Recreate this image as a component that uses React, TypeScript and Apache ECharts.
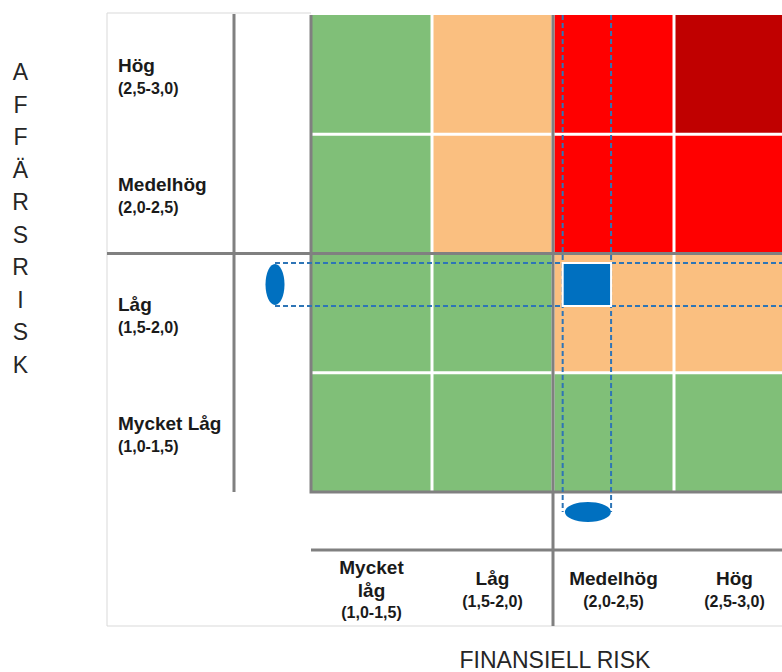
import { useEffect, useRef } from "react";
import * as echarts from "echarts";

// Scores run from 1,0 to 3,0 on both axes, split into four bands.
const scoreBounds = [1.0, 1.5, 2.0, 2.5, 3.0];
const bandRanges = ["(1,0-1,5)", "(1,5-2,0)", "(2,0-2,5)", "(2,5-3,0)"];
const financialLabels = ["Mycket\nlåg", "Låg", "Medelhög", "Hög"];
const businessLabels = ["Mycket Låg", "Låg", "Medelhög", "Hög"];

// Risk level per cell: rows = business risk (low → high), columns = financial risk (low → high)
const riskLevels = [
  [0, 0, 0, 0],
  [0, 0, 1, 1],
  [0, 1, 2, 2],
  [0, 1, 2, 3],
];
const levelColors = ["#80BF78", "#FABF80", "#FF0000", "#C00000"];

// Assessed position of the company (score interval on each axis)
const financialScore = [2.04, 2.24];
const businessScore = [1.78, 1.96];
const threshold = 2.0;

const verticalTitle = "AFFÄRSRISK";
const horizontalTitle = "FINANSIELL RISK";

// Layout
const W = 782;
const H = 672;
const GRID_LEFT = 311;
const GRID_TOP = 15;
const GRID_W = 484;
const GRID_H = 477;
const FRAME_LEFT = 107;
const FRAME_TOP = 13;
const FRAME_BOTTOM = 626;
const LABEL_DIVIDER_X = 234;
const AXIS_ROW_Y = 550;
const FONT = "'Liberation Sans', Arial, Helvetica, sans-serif";
const GRAY = "#808080";
const BLUE = "#0070C0";
const DASH_BLUE = "#2E75B6";

const minScore = scoreBounds[0];
const maxScore = scoreBounds[scoreBounds.length - 1];
const px = (v: number) => GRID_LEFT + ((v - minScore) / (maxScore - minScore)) * GRID_W;
const py = (v: number) => GRID_TOP + ((maxScore - v) / (maxScore - minScore)) * GRID_H;

function buildGraphics() {
  const els: any[] = [];
  const line = (x1: number, y1: number, x2: number, y2: number) => ({
    type: "line",
    z: 5,
    shape: { x1, y1, x2, y2 },
    style: { stroke: GRAY, lineWidth: 3 },
  });
  const text = (
    x: number,
    y: number,
    t: string,
    size: number,
    weight: string,
    align: string,
    extra: any = {}
  ) => ({
    type: "text",
    z: 6,
    x,
    y,
    style: {
      text: t,
      fill: "#1A1A1A",
      fontFamily: FONT,
      fontSize: size,
      fontWeight: weight,
      align,
      textAlign: align,
      verticalAlign: "middle",
      textVerticalAlign: "middle",
      ...extra,
    },
  });

  // outer frame of the table
  els.push({
    type: "polyline",
    z: 1,
    shape: {
      points: [
        [GRID_LEFT, FRAME_TOP],
        [FRAME_LEFT, FRAME_TOP],
        [FRAME_LEFT, FRAME_BOTTOM],
        [W + 10, FRAME_BOTTOM],
      ],
    },
    style: { stroke: "#D9D9D9", lineWidth: 1, fill: null },
  });

  // table structure
  els.push(line(LABEL_DIVIDER_X, 14, LABEL_DIVIDER_X, GRID_TOP + GRID_H));
  els.push({
    type: "polyline",
    z: 5,
    shape: {
      points: [
        [GRID_LEFT, GRID_TOP],
        [GRID_LEFT, GRID_TOP + GRID_H],
        [W + 10, GRID_TOP + GRID_H],
      ],
    },
    style: { stroke: GRAY, lineWidth: 3, fill: null },
  });
  els.push(line(GRID_LEFT, AXIS_ROW_Y, W + 10, AXIS_ROW_Y));
  // threshold lines at score 2,0
  els.push(line(FRAME_LEFT, py(threshold), W + 10, py(threshold)));
  els.push(line(px(threshold), GRID_TOP, px(threshold), FRAME_BOTTOM));

  // business risk labels
  businessLabels.forEach((lab, i) => {
    const cy = py((scoreBounds[i] + scoreBounds[i + 1]) / 2);
    els.push(text(118, cy - 9, lab, 19, "bold", "left"));
    els.push(text(118, cy + 14, bandRanges[i], 16, "bold", "left"));
  });

  // financial risk labels
  financialLabels.forEach((lab, i) => {
    const cx = px((scoreBounds[i] + scoreBounds[i + 1]) / 2);
    const lines = [...lab.split("\n"), bandRanges[i]];
    const n = lines.length;
    lines.forEach((t, k) => {
      const y = 590 + (k - (n - 1) / 2) * 22.5;
      const isRange = k === n - 1;
      els.push(text(cx, y, t, isRange ? 16 : 19, "bold", "center"));
    });
  });

  // axis titles
  els.push(
    text(20.5, 218.5, verticalTitle.split("").join("\n"), 23, "normal", "center", {
      lineHeight: 32.5,
      fill: "#262626",
    })
  );
  els.push(text(555, 660, horizontalTitle, 23, "normal", "center", { fill: "#262626" }));

  return els;
}

export default function App() {
  const ref = useRef<HTMLDivElement>(null);

  useEffect(() => {
    if (!ref.current) return;
    const chart = echarts.init(ref.current, undefined, { renderer: "svg" });

    const cellData: number[][] = [];
    riskLevels.forEach((row, r) => row.forEach((lvl, c) => cellData.push([c, r, lvl])));
    const lastIdx = scoreBounds.length - 2;

    chart.setOption({
      animation: false,
      backgroundColor: "#FFFFFF",
      grid: {
        left: GRID_LEFT,
        top: GRID_TOP,
        width: GRID_W,
        height: GRID_H,
        outerBoundsMode: "none",
      },
      xAxis: { type: "value", min: minScore, max: maxScore, show: false },
      yAxis: { type: "value", min: minScore, max: maxScore, show: false },
      graphic: buildGraphics(),
      series: [
        {
          type: "custom",
          name: "cells",
          z: 2,
          silent: true,
          data: cellData,
          renderItem: (_params: any, api: any) => {
            const c = api.value(0);
            const r = api.value(1);
            const lvl = api.value(2);
            const p0 = api.coord([scoreBounds[c], scoreBounds[r + 1]]);
            const p1 = api.coord([scoreBounds[c + 1], scoreBounds[r]]);
            const gl = c === 0 ? 0 : 1.5;
            const gr = c === lastIdx ? 0 : 1.5;
            const gt = r === lastIdx ? 0 : 1.5;
            const gb = r === 0 ? 0 : 1.5;
            return {
              type: "rect",
              shape: {
                x: p0[0] + gl,
                y: p0[1] + gt,
                width: p1[0] - p0[0] - gl - gr,
                height: p1[1] - p0[1] - gt - gb,
              },
              style: { fill: levelColors[lvl] },
            };
          },
        },
        {
          type: "custom",
          name: "position",
          z: 10,
          silent: true,
          data: [[financialScore[0], financialScore[1], businessScore[0], businessScore[1]]],
          renderItem: (params: any, api: any) => {
            const tl = api.coord([api.value(0), api.value(3)]);
            const br = api.coord([api.value(1), api.value(2)]);
            const cs = params.coordSys;
            const leftCx = cs.x - 36;
            const leftCy = (tl[1] + br[1]) / 2;
            const botCx = (tl[0] + br[0]) / 2 + 1;
            const botCy = cs.y + cs.height + 20;
            const dash = { stroke: DASH_BLUE, lineWidth: 2, lineDash: [5, 3] };
            const right = W + 10;
            return {
              type: "group",
              children: [
                { type: "line", shape: { x1: leftCx, y1: tl[1], x2: right, y2: tl[1] }, style: dash },
                { type: "line", shape: { x1: leftCx, y1: br[1], x2: right, y2: br[1] }, style: dash },
                { type: "line", shape: { x1: tl[0], y1: cs.y, x2: tl[0], y2: botCy }, style: dash },
                { type: "line", shape: { x1: br[0], y1: cs.y, x2: br[0], y2: botCy }, style: dash },
                {
                  type: "rect",
                  shape: { x: tl[0], y: tl[1], width: br[0] - tl[0], height: br[1] - tl[1] },
                  style: { fill: BLUE, stroke: "#FFFFFF", lineWidth: 2 },
                },
                {
                  type: "ellipse",
                  shape: { cx: leftCx, cy: leftCy, rx: 9.5, ry: (br[1] - tl[1]) / 2 - 1 },
                  style: { fill: BLUE },
                },
                {
                  type: "ellipse",
                  shape: { cx: botCx, cy: botCy, rx: 23, ry: 10 },
                  style: { fill: BLUE },
                },
              ],
            };
          },
        },
      ],
    });

    return () => chart.dispose();
  }, []);

  return (
    <div
      ref={ref}
      style={{ position: "fixed", left: 0, top: 0, width: W, height: H, overflow: "hidden" }}
    />
  );
}
